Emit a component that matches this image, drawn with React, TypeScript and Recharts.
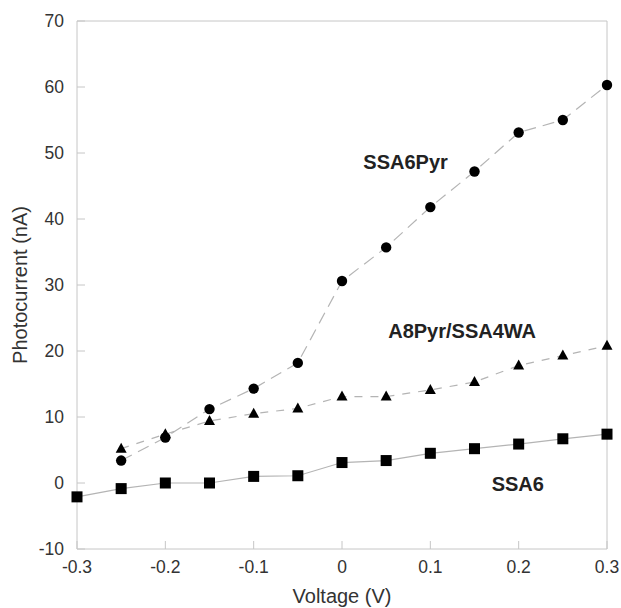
import React from 'react';
import { LineChart, Line, XAxis, YAxis, ReferenceDot } from 'recharts';

const VOLTAGE = [-0.3, -0.25, -0.2, -0.15, -0.1, -0.05, 0, 0.05, 0.1, 0.15, 0.2, 0.25, 0.3];
const VOLTAGE_PYR = VOLTAGE.slice(1);

const SSA6 = [-2.1, -0.85, 0, 0, 1.0, 1.1, 3.1, 3.4, 4.5, 5.2, 5.9, 6.7, 7.4];
const SSA6PYR = [3.4, 6.9, 11.2, 14.3, 18.2, 30.6, 35.7, 41.8, 47.2, 53.1, 55.0, 60.3];
const A8PYR = [5.2, 7.4, 9.4, 10.5, 11.3, 13.1, 13.1, 14.1, 15.3, 17.8, 19.3, 20.8];

const X_TICKS = [-0.3, -0.2, -0.1, 0, 0.1, 0.2, 0.3];
const Y_TICKS = [-10, 0, 10, 20, 30, 40, 50, 60, 70];

const ssa6Data = VOLTAGE.map((v, i) => ({ v, y: SSA6[i] }));
const pyrData = VOLTAGE_PYR.map((v, i) => ({ v, y: SSA6PYR[i] }));
const a8Data = VOLTAGE_PYR.map((v, i) => ({ v, y: A8PYR[i] }));

const AXIS = '#c6c6c6';
const LINE = '#b4b4b4';
const TEXT = '#333';
const FONT = 'Liberation Sans, Arial, sans-serif';
const tickStyle = { fill: TEXT, fontSize: 17.5, fontFamily: FONT };

const Square = (props: any) => {
  const { cx, cy } = props;
  if (cx == null || cy == null) return null;
  return <rect x={cx - 5.5} y={cy - 5.5} width={11} height={11} fill="#000" />;
};

const Triangle = (props: any) => {
  const { cx, cy } = props;
  if (cx == null || cy == null) return null;
  return <polygon points={`${cx},${cy - 6} ${cx + 5.5},${cy + 4} ${cx - 5.5},${cy + 4}`} fill="#000" />;
};

const YTitle = (props: any) => {
  const vb = props.viewBox;
  const x = 20;
  const y = vb.y + vb.height / 2;
  return (
    <text x={x} y={y} dy="0.35em" transform={`rotate(-90, ${x}, ${y})`} textAnchor="middle" fill={TEXT} fontSize={20} fontFamily={FONT}>
      Photocurrent (nA)
    </text>
  );
};

const seriesLabel = (text: string) => ({
  value: text,
  position: 'center' as const,
  fill: '#222',
  fontSize: 20,
  fontWeight: 'bold',
  fontFamily: FONT,
});

export default function App() {
  return (
    <div style={{ position: 'absolute', left: 0, top: 0, background: '#fff' }}>
      <LineChart width={621} height={608} margin={{ top: 0, right: 0, bottom: 0, left: 0 }}>
        <XAxis
          xAxisId="bottom"
          dataKey="v"
          type="number"
          domain={[-0.3, 0.3]}
          ticks={X_TICKS}
          allowDuplicatedCategory={false}
          height={59}
          tick={tickStyle}
          tickSize={-8}
          tickMargin={20}
          axisLine={{ stroke: AXIS }}
          tickLine={{ stroke: AXIS }}
          label={{ value: 'Voltage (V)', position: 'insideBottom', offset: 5, fill: TEXT, fontSize: 20, fontFamily: FONT }}
        />
        <XAxis
          xAxisId="top"
          orientation="top"
          dataKey="v"
          type="number"
          domain={[-0.3, 0.3]}
          ticks={X_TICKS}
          allowDuplicatedCategory={false}
          height={21}
          tickSize={-8}
          tickFormatter={() => ''}
          axisLine={{ stroke: AXIS }}
          tickLine={{ stroke: AXIS }}
        />
        <YAxis
          yAxisId="left"
          type="number"
          domain={[-10, 70]}
          ticks={Y_TICKS}
          width={77}
          tick={tickStyle}
          tickSize={-8}
          tickMargin={21}
          axisLine={{ stroke: AXIS }}
          tickLine={{ stroke: AXIS }}
          label={<YTitle />}
        />
        <YAxis
          yAxisId="right"
          orientation="right"
          type="number"
          domain={[-10, 70]}
          ticks={Y_TICKS}
          width={14}
          tickSize={-8}
          tickFormatter={() => ''}
          axisLine={{ stroke: AXIS }}
          tickLine={{ stroke: AXIS }}
        />
        <Line
          xAxisId="bottom"
          yAxisId="left"
          data={ssa6Data}
          dataKey="y"
          stroke={LINE}
          strokeWidth={1.2}
          dot={<Square />}
          isAnimationActive={false}
        />
        <Line
          xAxisId="bottom"
          yAxisId="left"
          data={a8Data}
          dataKey="y"
          stroke={LINE}
          strokeWidth={1.2}
          strokeDasharray="8 8"
          dot={<Triangle />}
          isAnimationActive={false}
        />
        <Line
          xAxisId="bottom"
          yAxisId="left"
          data={pyrData}
          dataKey="y"
          stroke={LINE}
          strokeWidth={1.2}
          strokeDasharray="12 7"
          dot={{ r: 5.2, fill: '#000', stroke: 'none' }}
          isAnimationActive={false}
        />
        <ReferenceDot xAxisId="bottom" yAxisId="left" x={0.072} y={48.7} r={0} stroke="none" label={seriesLabel('SSA6Pyr')} />
        <ReferenceDot xAxisId="bottom" yAxisId="left" x={0.136} y={23.0} r={0} stroke="none" label={seriesLabel('A8Pyr/SSA4WA')} />
        <ReferenceDot xAxisId="bottom" yAxisId="left" x={0.199} y={-0.2} r={0} stroke="none" label={seriesLabel('SSA6')} />
      </LineChart>
    </div>
  );
}
